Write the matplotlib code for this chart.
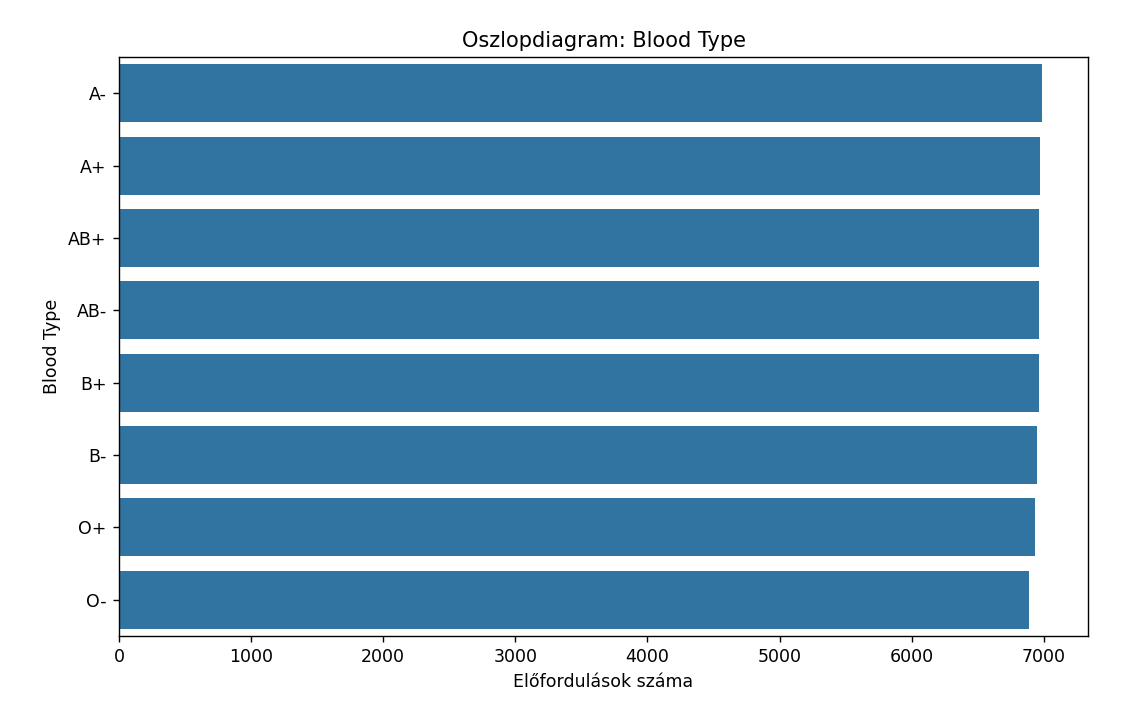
import matplotlib.pyplot as plt
import seaborn as sns
import pandas as pd

blood_types = ["A-", "A+", "AB+", "AB-", "B+", "B-", "O+", "O-"]
counts = [6985, 6970, 6964, 6962, 6960, 6952, 6930, 6885]

df = pd.DataFrame({"Blood Type": blood_types, "count": counts})

fig = plt.figure(figsize=(1123 / 125, 705 / 125), dpi=125)
ax = fig.add_axes([119 / 1123, 1 - 636 / 705, (1088 - 119) / 1123, (636 - 57) / 705])
sns.barplot(data=df, x="count", y="Blood Type", color="#1f77b4", saturation=0.75, ax=ax)
ax.set_title("Oszlopdiagram: Blood Type")
ax.set_xlabel("Előfordulások száma")
ax.set_ylabel("Blood Type")
fig.savefig("out.png", dpi=125)
